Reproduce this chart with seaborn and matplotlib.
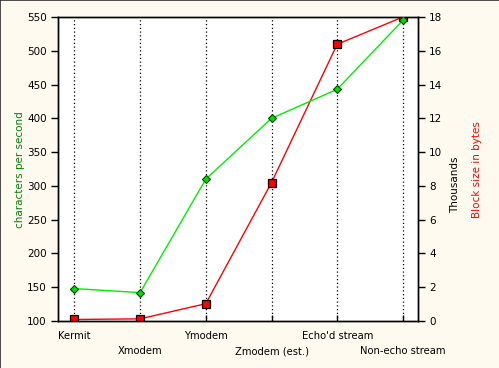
import matplotlib
matplotlib.use("Agg")
import matplotlib.pyplot as plt
import seaborn as sns
import pandas as pd

protocols = ["Kermit", "Xmodem", "Ymodem", "Zmodem (est.)", "Echo'd stream", "Non-echo stream"]
cps = [148, 142, 310, 400, 443, 545]
block_k = [0.09, 0.128, 1.024, 8.192, 16.384, 18.0]

df = pd.DataFrame({"pos": range(len(protocols)), "cps": cps, "block": block_k})

sns.set_style("white")
plt.rcParams["font.family"] = ["DejaVu Sans"]
plt.rcParams["text.color"] = "black"
plt.rcParams["xtick.color"] = "black"
plt.rcParams["ytick.color"] = "black"

bg = "#FFFAF0"
fig = plt.figure(figsize=(4.99, 3.68), dpi=100, facecolor=bg)
ax2 = fig.add_axes([58/499, 47/368, 360/499, 304/368])
ax2.set_facecolor("white")
ax = ax2.twinx()
ax.yaxis.tick_left()
ax.yaxis.set_label_position("left")
ax2.yaxis.tick_right()
ax2.yaxis.set_label_position("right")
ax.patch.set_visible(False)
ax.set_zorder(ax2.get_zorder() + 1)

for x in df["pos"]:
    ax2.axvline(x, color="black", linestyle=(0, (1, 2)), linewidth=0.9, zorder=0)

sns.lineplot(data=df, x="pos", y="block", ax=ax2, color="#FF0000", linewidth=1,
             marker="s", markersize=5.6, markerfacecolor="#FF0000",
             markeredgecolor="black", markeredgewidth=0.9, zorder=4)
ax2.set_ylim(0, 18)
ax2.set_yticks(range(0, 19, 2))
ax2.set_ylabel("")
ax2.set_xlabel("")
ax2.tick_params(axis="y", direction="out", length=5, width=1, labelsize=7.5, pad=3,
                right=True, left=False, labelleft=False, labelright=True)
ax2.set_xticks(range(len(protocols)))
ax2.set_xticklabels([""] * len(protocols))
ax2.tick_params(axis="x", direction="in", length=4, width=1, bottom=True)
ax2.set_xlim(-0.25, 5.23)

sns.lineplot(data=df, x="pos", y="cps", ax=ax, color="#00EE00", linewidth=1,
             marker="D", markersize=4.3, markerfacecolor="#00DD00",
             markeredgecolor="#004400", markeredgewidth=0.8, zorder=5)
ax.set_xlim(-0.25, 5.23)
ax.set_ylim(100, 550)
ax.set_yticks(range(100, 551, 50))
ax.set_xticks(range(len(protocols)))
ax.set_xticklabels([""] * len(protocols))
ax.set_xlabel("")
ax.set_ylabel("")
ax.tick_params(axis="y", direction="out", length=5, width=1, labelsize=7.5, pad=3,
               left=True, right=False, labelleft=True, labelright=False)
ax.tick_params(axis="x", bottom=False)

for i, lab in enumerate(protocols):
    y = -0.05 if i % 2 == 0 else -0.10
    ax.text(i, y, lab, transform=ax.get_xaxis_transform(), ha="center", va="center",
            fontsize=7.2)

for a in (ax, ax2):
    for s in a.spines.values():
        s.set_color("black")
        s.set_linewidth(1)

fig.text(20/499, 1 - 170/368, "characters per second", rotation=90, ha="center", va="center",
         fontsize=7.5, color="#008000")
fig.text(455/499, 1 - 185/368, "Thousands", rotation=90, ha="center", va="center", fontsize=7.5)
fig.text(477/499, 1 - 170/368, "Block size in bytes", rotation=90, ha="center", va="center",
         fontsize=7.5, color="#FF0000")

# top and left border lines
fig.add_artist(plt.Line2D([0, 1], [0.999, 0.999], transform=fig.transFigure,
                          color="#303030", linewidth=1.2))
fig.add_artist(plt.Line2D([0.001, 0.001], [0, 1], transform=fig.transFigure,
                          color="#303030", linewidth=1.2))

fig.savefig("out.png", dpi=100, facecolor=bg)
